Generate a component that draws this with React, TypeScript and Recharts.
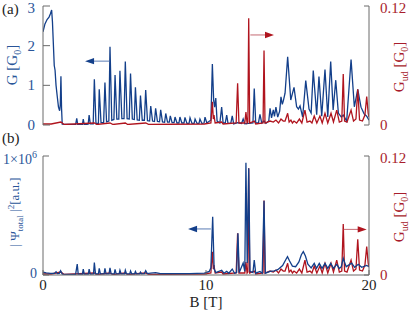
import { LineChart, Line, XAxis, YAxis, ReferenceLine, ReferenceDot } from 'recharts'

const BLUE = '#133f8a'
const RED = '#b0141e'
const BLUE_TXT = '#2a5599'
const RED_TXT = '#a81d2c'
const FONT = '"Liberation Serif", "DejaVu Serif", serif'

const X_TICKS = [0, 10, 20]
const G_TICKS = [0, 1, 2, 3]
const GUD_TICKS = [0, 0.12]
const PSI_TICKS = [0, 1]

// G [G0] vs B [T], panel (a)
const gPoints: [number, number][] = [
  [0, 2.35], [0.12, 2.55], [0.25, 2.66], [0.37, 2.72], [0.45, 2.8], [0.53, 2.9], [0.58, 2.6],
  [0.63, 2.1], [0.69, 1.5], [0.74, 1.38], [0.8, 1.0], [0.88, 0.7], [0.95, 0.45], [1.02, 0.36],
  [1.06, 0.5], [1.1, 1.23], [1.14, 0.4], [1.18, 0.02], [2.0, 0.01], [2.07, 0.17], [2.13, 0.01],
  [2.42, 0.01], [2.47, 0.15], [2.53, 0.01], [2.77, 0.02], [2.83, 0.25], [2.9, 0.03],
  [3.08, 0.03], [3.15, 1.15], [3.25, 0.04], [3.4, 0.04], [3.45, 0.9], [3.56, 0.06], [3.72, 0.06],
  [3.8, 1.07], [3.9, 0.08], [4.04, 0.1], [4.11, 1.97], [4.22, 0.12], [4.35, 0.14], [4.42, 1.26],
  [4.53, 0.15], [4.65, 0.15], [4.72, 1.37], [4.84, 0.16], [4.97, 0.16], [5.05, 1.6], [5.16, 0.16],
  [5.29, 0.15], [5.37, 1.3], [5.48, 0.15], [5.6, 0.14], [5.67, 0.95], [5.78, 0.13], [5.91, 0.12],
  [5.98, 0.74], [6.09, 0.12], [6.22, 0.12], [6.3, 0.88], [6.41, 0.11], [6.54, 0.1], [6.61, 0.48],
  [6.72, 0.1], [6.84, 0.09], [6.91, 0.42], [7.02, 0.09], [7.15, 0.08], [7.22, 0.38], [7.33, 0.08],
  [7.46, 0.07], [7.53, 0.29], [7.64, 0.07], [7.75, 0.07], [7.81, 0.23], [7.92, 0.06], [8.04, 0.06],
  [8.1, 0.2], [8.22, 0.05], [8.34, 0.05], [8.4, 0.2], [8.52, 0.05], [8.65, 0.05], [8.71, 0.19],
  [8.83, 0.04], [8.96, 0.04], [9.02, 0.18], [9.14, 0.04], [9.27, 0.04], [9.33, 0.15], [9.45, 0.04],
  [9.57, 0.04], [9.63, 0.15], [9.75, 0.04], [9.88, 0.05], [9.94, 0.2], [10.05, 0.05], [10.22, 0.1],
  [10.3, 0.12], [10.39, 1.54], [10.47, 0.62], [10.53, 0.45], [10.6, 0.68], [10.68, 0.1],
  [10.85, 0.05], [10.96, 0.45], [11.05, 0.05], [11.18, 0.05], [11.27, 0.25], [11.35, 0.04],
  [11.52, 0.04], [11.61, 0.23], [11.7, 0.03], [11.94, 0.06], [12.18, 0.04], [12.28, 0.15],
  [12.38, 0.03], [12.62, 0.04], [12.88, 0.05], [12.96, 0.92], [13.05, 0.05], [13.22, 0.06],
  [13.31, 0.27], [13.42, 0.05], [13.56, 0.1], [13.68, 0.04], [13.85, 0.1], [13.93, 0.42],
  [14.02, 0.18], [14.13, 0.38], [14.2, 0.22], [14.29, 0.45], [14.4, 0.2], [14.52, 0.35],
  [14.6, 0.71], [14.68, 0.52], [14.74, 0.6], [14.85, 0.8], [15.01, 1.72], [15.2, 0.63],
  [15.4, 0.95], [15.56, 0.46], [15.67, 0.4], [15.77, 0.48], [15.93, 0.2], [16.12, 1.12],
  [16.32, 0.4], [16.45, 0.3], [16.58, 1.37], [16.79, 0.26], [16.93, 1.22], [17.1, 0.22],
  [17.3, 1.4], [17.47, 0.2], [17.65, 1.6], [17.8, 0.38], [17.96, 1.13], [18.12, 0.3], [18.3, 0.2],
  [18.42, 0.25], [18.63, 0.1], [18.9, 1.65], [19.1, 0.46], [19.31, 0.9], [19.51, 0.45],
  [19.7, 0.28], [19.86, 0.22], [20, 0.12],
]

// G_ud [G0] vs B [T], same curve in both panels
const gudPoints: [number, number][] = [
  [0, 0.001], [0.5, 0.001], [1.1, 0.003], [1.3, 0.0005], [3.15, 0.002], [3.3, 0.0005],
  [4.11, 0.002], [4.3, 0.0005], [5.05, 0.002], [5.2, 0.0005], [6.3, 0.002], [6.5, 0.0005],
  [9.9, 0.001], [10.3, 0.002], [10.39, 0.0235], [10.45, 0.006], [10.49, 0.01], [10.56, 0.002],
  [10.96, 0.003], [11.05, 0.001], [11.85, 0.002], [11.94, 0.042], [12.02, 0.002], [12.38, 0.002],
  [12.45, 0.013], [12.52, 0.002], [12.57, 0.003], [12.62, 0.1076], [12.68, 0.002], [12.96, 0.004],
  [13.05, 0.001], [13.5, 0.002], [13.56, 0.075], [13.62, 0.002], [13.93, 0.004], [14.13, 0.003],
  [14.29, 0.005], [14.45, 0.002], [14.6, 0.006], [14.74, 0.004], [14.85, 0.004], [15.01, 0.0118],
  [15.1, 0.003], [15.21, 0.005], [15.3, 0.002], [15.4, 0.004], [15.56, 0.002], [15.73, 0.006],
  [15.88, 0.002], [16.07, 0.015], [16.2, 0.003], [16.38, 0.004], [16.5, 0.002], [16.64, 0.009],
  [16.8, 0.002], [16.99, 0.009], [17.13, 0.002], [17.3, 0.0118], [17.47, 0.002], [17.67, 0.0118],
  [17.82, 0.003], [18.02, 0.015], [18.18, 0.003], [18.33, 0.004], [18.42, 0.0514], [18.5, 0.004],
  [18.65, 0.003], [18.9, 0.015], [19.05, 0.004], [19.2, 0.006], [19.31, 0.036], [19.42, 0.005],
  [19.6, 0.004], [19.75, 0.01], [19.86, 0.0286], [19.95, 0.012], [20, 0.008],
]

// |Psi_total|^2 in units of 1e6 a.u., panel (b)
const psiPoints: [number, number][] = [
  [0, 0.023], [0.2, 0.018], [0.45, 0.014], [0.7, 0.014], [0.8, 0.028], [0.88, 0.012], [1.0, 0.014],
  [1.08, 0.036], [1.18, 0.008], [2.0, 0.006], [2.1, 0.092], [2.16, 0.008], [2.42, 0.008],
  [2.47, 0.05], [2.53, 0.008], [2.78, 0.008], [2.83, 0.05], [2.9, 0.008], [3.1, 0.01],
  [3.15, 0.104], [3.22, 0.01], [3.4, 0.01], [3.45, 0.056], [3.52, 0.01], [3.75, 0.01],
  [3.8, 0.056], [3.87, 0.01], [4.05, 0.01], [4.11, 0.06], [4.18, 0.01], [4.37, 0.01],
  [4.42, 0.048], [4.49, 0.01], [4.67, 0.01], [4.72, 0.04], [4.79, 0.01], [5.0, 0.01],
  [5.05, 0.04], [5.12, 0.01], [5.32, 0.01], [5.37, 0.034], [5.44, 0.01], [5.62, 0.01],
  [5.67, 0.03], [5.74, 0.01], [5.93, 0.01], [5.98, 0.025], [6.05, 0.01], [6.22, 0.012],
  [6.3, 0.036], [6.4, 0.012], [6.6, 0.015], [6.91, 0.02], [7.2, 0.012], [8.0, 0.012],
  [9.0, 0.012], [9.9, 0.015], [10.2, 0.03], [10.3, 0.06], [10.41, 0.49], [10.5, 0.05],
  [10.6, 0.02], [10.96, 0.04], [11.1, 0.015], [11.27, 0.03], [11.4, 0.015], [11.61, 0.05],
  [11.75, 0.015], [11.88, 0.02], [11.96, 0.35], [12.04, 0.02], [12.28, 0.1], [12.38, 0.03],
  [12.45, 0.944], [12.53, 0.1], [12.62, 0.897], [12.7, 0.03], [12.88, 0.02], [12.96, 0.126],
  [13.05, 0.015], [13.31, 0.03], [13.45, 0.015], [13.56, 0.624], [13.64, 0.015], [13.93, 0.03],
  [14.2, 0.035], [14.4, 0.045], [14.7, 0.08], [14.9, 0.13], [15.0, 0.154], [15.12, 0.12],
  [15.3, 0.075], [15.5, 0.07], [15.7, 0.11], [15.85, 0.17], [15.97, 0.196], [16.1, 0.16],
  [16.25, 0.09], [16.45, 0.06], [16.64, 0.098], [16.78, 0.056], [16.95, 0.098], [17.12, 0.056],
  [17.3, 0.098], [17.47, 0.056], [17.65, 0.098], [17.82, 0.056], [18.02, 0.09], [18.18, 0.055],
  [18.3, 0.07], [18.42, 0.14], [18.6, 0.07], [18.94, 0.1], [19.12, 0.065], [19.34, 0.09],
  [19.55, 0.065], [19.86, 0.08], [20, 0.07],
]

const rows = (pts: [number, number][]) => pts.map(([b, v]) => ({ b, v }))
const gData = rows(gPoints)
const gudData = rows(gudPoints)
const psiData = rows(psiPoints)

const W = 415
const FRAME = '#6a6a6a'

const headLeft = (color: string) => (p: any) => (
  <polygon points={`${p.cx},${p.cy} ${p.cx + 9},${p.cy - 3.2} ${p.cx + 9},${p.cy + 3.2}`} fill={color} />
)
const headRight = (color: string) => (p: any) => (
  <polygon points={`${p.cx},${p.cy} ${p.cx - 9},${p.cy - 3.2} ${p.cx - 9},${p.cy + 3.2}`} fill={color} />
)

// tick label; the top one is nudged down a little so it stays inside the page
const valTick = (color: string, anchor: 'start' | 'end', top: number) => (p: any) => (
  <text x={p.x} y={p.y} textAnchor={anchor} fill={color} fontSize={15} fontFamily={FONT}
    dy={p.payload.value === top ? 7 : 5}>
    {String(p.payload.value)}
  </text>
)

const PsiTick = (p: any) => (
  <text x={p.x} y={p.y} textAnchor="end" fill={BLUE_TXT} fontSize={14} fontFamily={FONT} dy={p.payload.value === 0 ? 3 : 8}>
    {p.payload.value === 0 ? '0' : <>1×10<tspan dy={-6} fontSize={10}>6</tspan></>}
  </text>
)

function Axes({ bottomLabels, psi }: { bottomLabels: boolean; psi: boolean }) {
  return [
    <XAxis key="xb" xAxisId={0} dataKey="b" type="number" domain={[0, 20]} ticks={X_TICKS} interval={0}
      allowDataOverflow height={bottomLabels ? 37 : 0} tickSize={-5} tickMargin={bottomLabels ? 9 : 0}
      tick={bottomLabels ? { fill: '#222', fontSize: 15, fontFamily: FONT } : false}
      axisLine={{ stroke: FRAME }} tickLine={{ stroke: FRAME }} />,
    <XAxis key="xt" xAxisId="top" orientation="top" dataKey="b" type="number" domain={[0, 20]} ticks={[10]}
      allowDataOverflow height={0} tickSize={-5} tick={false}
      axisLine={{ stroke: '#333' }} tickLine={{ stroke: FRAME }} />,
    psi ? (
      <YAxis key="yl" yAxisId="l" orientation="left" width={43} type="number" domain={[0, 1]} ticks={PSI_TICKS}
        interval={0} allowDataOverflow tickSize={-6} tickMargin={12} tick={PsiTick}
        axisLine={{ stroke: FRAME }} tickLine={{ stroke: FRAME }} />
    ) : (
      <YAxis key="yl" yAxisId="l" orientation="left" width={43} type="number" domain={[0, 3]} ticks={G_TICKS}
        interval={0} allowDataOverflow tickSize={-7} tickMargin={15}
        tick={valTick(BLUE_TXT, 'end', 3)}
        axisLine={{ stroke: FRAME }} tickLine={{ stroke: FRAME }} />
    ),
    <YAxis key="yr" yAxisId="r" orientation="right" width={46} type="number" domain={[0, 0.12]} ticks={GUD_TICKS}
      interval={0} allowDataOverflow tickSize={-5} tickMargin={16}
      tick={valTick(RED_TXT, 'start', 0.12)}
      axisLine={{ stroke: FRAME }} tickLine={{ stroke: FRAME }} />,
  ]
}

const rot = (left: number, top: number, color: string, size: number): React.CSSProperties => ({
  position: 'absolute', left, top, transform: 'translate(-50%, -50%) rotate(-90deg)',
  whiteSpace: 'nowrap', color, fontSize: size, lineHeight: 1,
})

export default function App() {
  return (
    <div style={{ position: 'absolute', left: 0, top: 0, width: W, height: 312, background: '#fff', fontFamily: FONT }}>
      <div style={{ position: 'absolute', left: 0, top: 0 }}>
        <LineChart width={W} height={140} margin={{ top: 6, right: 0, bottom: 15, left: 0 }}>
          {Axes({ bottomLabels: false, psi: false })}
          <Line data={gData} dataKey="v" yAxisId="l" stroke={BLUE} strokeWidth={1.3} dot={false}
            type="linear" isAnimationActive={false} />
          <Line data={gudData} dataKey="v" yAxisId="r" stroke={RED} strokeWidth={1.3} dot={false}
            type="linear" isAnimationActive={false} />
          <ReferenceLine yAxisId="l" segment={[{ x: 4.07, y: 1.61 }, { x: 2.9, y: 1.61 }]} stroke="#5a7cb5" strokeWidth={1} />
          <ReferenceDot yAxisId="l" x={2.58} y={1.61} r={3} shape={headLeft(BLUE)} />
          <ReferenceLine yAxisId="r" segment={[{ x: 12.72, y: 0.0908 }, { x: 13.85, y: 0.0908 }]} stroke="#c46a72" strokeWidth={1} />
          <ReferenceDot yAxisId="r" x={14.17} y={0.0908} r={3} shape={headRight(RED)} />
        </LineChart>
      </div>
      <div style={{ position: 'absolute', left: 0, top: 140 }}>
        <LineChart width={W} height={172} margin={{ top: 16, right: 0, bottom: 0, left: 0 }}>
          {Axes({ bottomLabels: true, psi: true })}
          <Line data={gudData} dataKey="v" yAxisId="r" stroke={RED} strokeWidth={1.3} dot={false}
            type="linear" isAnimationActive={false} />
          <Line data={psiData} dataKey="v" yAxisId="l" stroke={BLUE} strokeWidth={1.3} dot={false}
            type="linear" isAnimationActive={false} />
          <ReferenceLine yAxisId="l" segment={[{ x: 10.3, y: 0.387 }, { x: 9.2, y: 0.387 }]} stroke="#5a7cb5" strokeWidth={1} />
          <ReferenceDot yAxisId="l" x={8.9} y={0.387} r={3} shape={headLeft(BLUE)} />
          <ReferenceLine yAxisId="r" segment={[{ x: 18.45, y: 0.046 }, { x: 19.55, y: 0.046 }]} stroke="#c46a72" strokeWidth={1} />
          <ReferenceDot yAxisId="r" x={19.86} y={0.046} r={3} shape={headRight(RED)} />
        </LineChart>
      </div>

      <div style={{ position: 'absolute', left: 2, top: 2, fontSize: 15, lineHeight: 1, color: '#222' }}>(a)</div>
      <div style={{ position: 'absolute', left: 2, top: 131, fontSize: 15, lineHeight: 1, color: '#222' }}>(b)</div>
      <div style={rot(14, 65, BLUE_TXT, 15)}>G [G<sub style={{ fontSize: 10 }}>0</sub>]</div>
      <div style={rot(401, 67, RED_TXT, 15)}>G<sub style={{ fontSize: 10 }}>ud</sub> [G<sub style={{ fontSize: 10 }}>0</sub>]</div>
      <div style={rot(16, 212, BLUE_TXT, 13)}>
        | Ψ<sub style={{ fontSize: 9 }}>total</sub> |<sup style={{ fontSize: 9 }}>2</sup>[a.u.]
      </div>
      <div style={rot(401, 217, RED_TXT, 15)}>G<sub style={{ fontSize: 10 }}>ud</sub> [G<sub style={{ fontSize: 10 }}>0</sub>]</div>
      <div style={{ position: 'absolute', left: 206, top: 302, transform: 'translate(-50%, -50%)', fontSize: 15, lineHeight: 1, color: '#222', whiteSpace: 'nowrap' }}>
        B [T]
      </div>
    </div>
  )
}
